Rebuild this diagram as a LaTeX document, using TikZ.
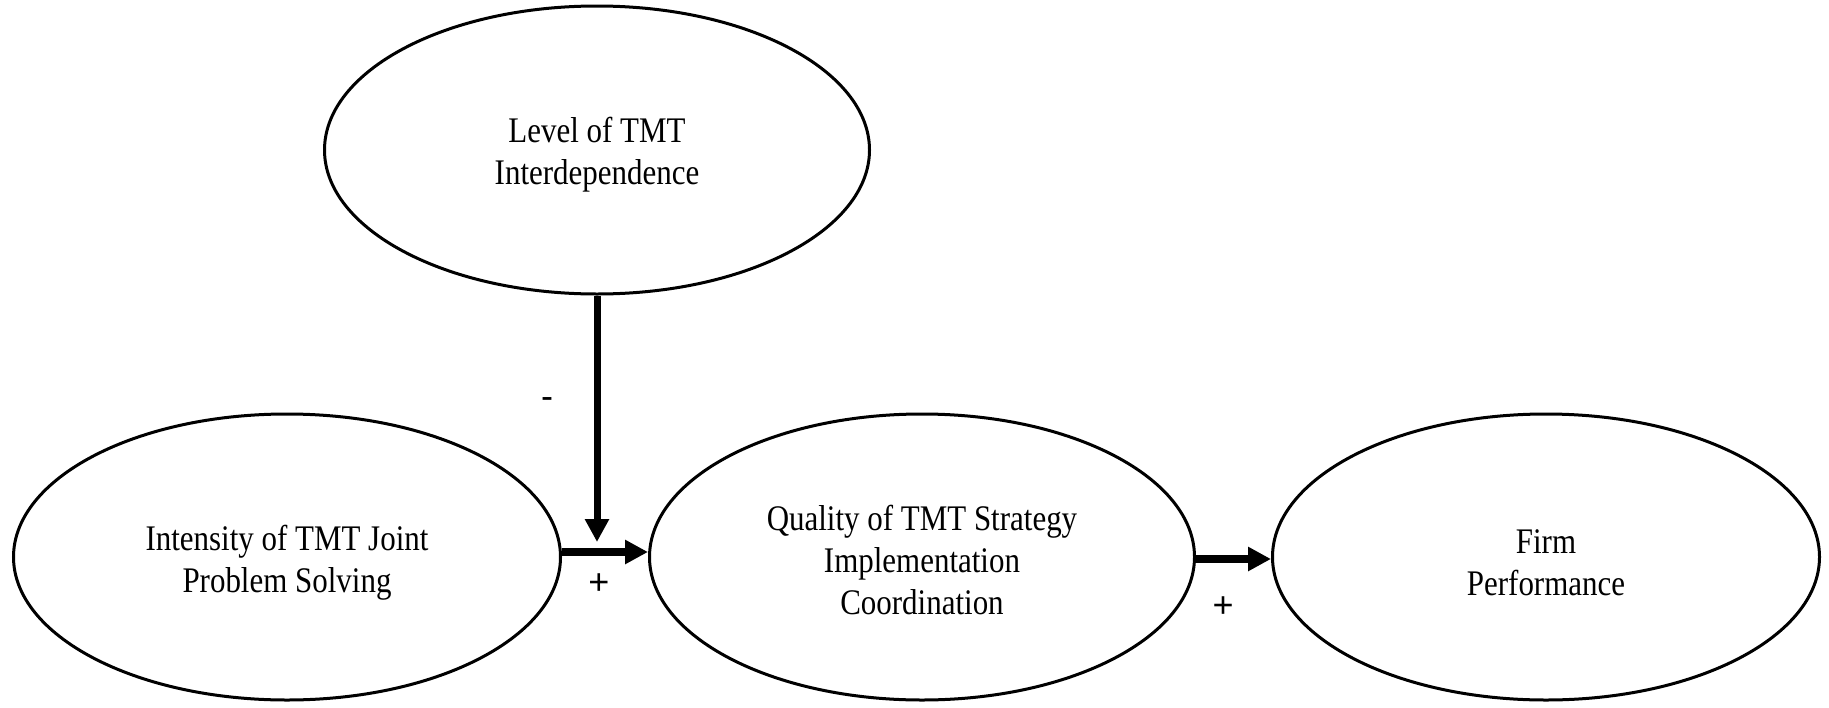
\documentclass[tikz,border=0pt]{standalone}
\usepackage{fontspec}
\setmainfont{Liberation Serif}[FakeStretch=0.86]
\newfontfamily\labelfont{Liberation Sans}
\usetikzlibrary{shapes.geometric,arrows.meta}
\begin{document}
\begin{tikzpicture}[x=1pt,y=-1pt,
  construct/.style={ellipse,draw,line width=3pt,inner sep=0pt},
  ctext/.style={align=center,inner sep=0pt,font=\fontsize{36}{42}\selectfont},
  causal/.style={line width=8pt,-{Triangle[length=23pt,width=23pt]}},
  sign/.style={font=\labelfont\fontsize{36}{36}\selectfont,inner sep=0pt}]
\useasboundingbox (0,0) rectangle (1829,707);
\node[construct,minimum width=545pt,minimum height=288pt] (T) at (597,150) {};
\node[construct,minimum width=547pt,minimum height=286pt] (L) at (287,557) {};
\node[construct,minimum width=545pt,minimum height=286pt] (M) at (922,557) {};
\node[construct,minimum width=547pt,minimum height=286pt] (R) at (1546,557) {};
\node[ctext] (Tt) at ([yshift=-5pt]T.center) {Level of TMT\\Interdependence};
\node[ctext] (Lt) at ([yshift=-6pt]L.center) {Intensity of TMT Joint\\Problem Solving};
\node[ctext] (Mt) at ([yshift=-3pt]M.center) {Quality of TMT Strategy\\Implementation\\Coordination};
\node[ctext] (Rt) at ([yshift=-6pt]R.center) {Firm\\Performance};
\coordinate (J) at (597,542);
\draw[causal,line width=7pt] (T.south) -- (J);
\draw[causal] ([yshift=5pt]L.east) -- ([yshift=5pt]M.west);
\draw[causal] ([yshift=-2pt]M.east) -- ([yshift=-2pt]R.west);
\node[sign] (s1) at (547,403) {-};
\node[sign] (s2) at (599,584) {+};
\node[sign] (s3) at (1223,607) {+};
\end{tikzpicture}
\end{document}
